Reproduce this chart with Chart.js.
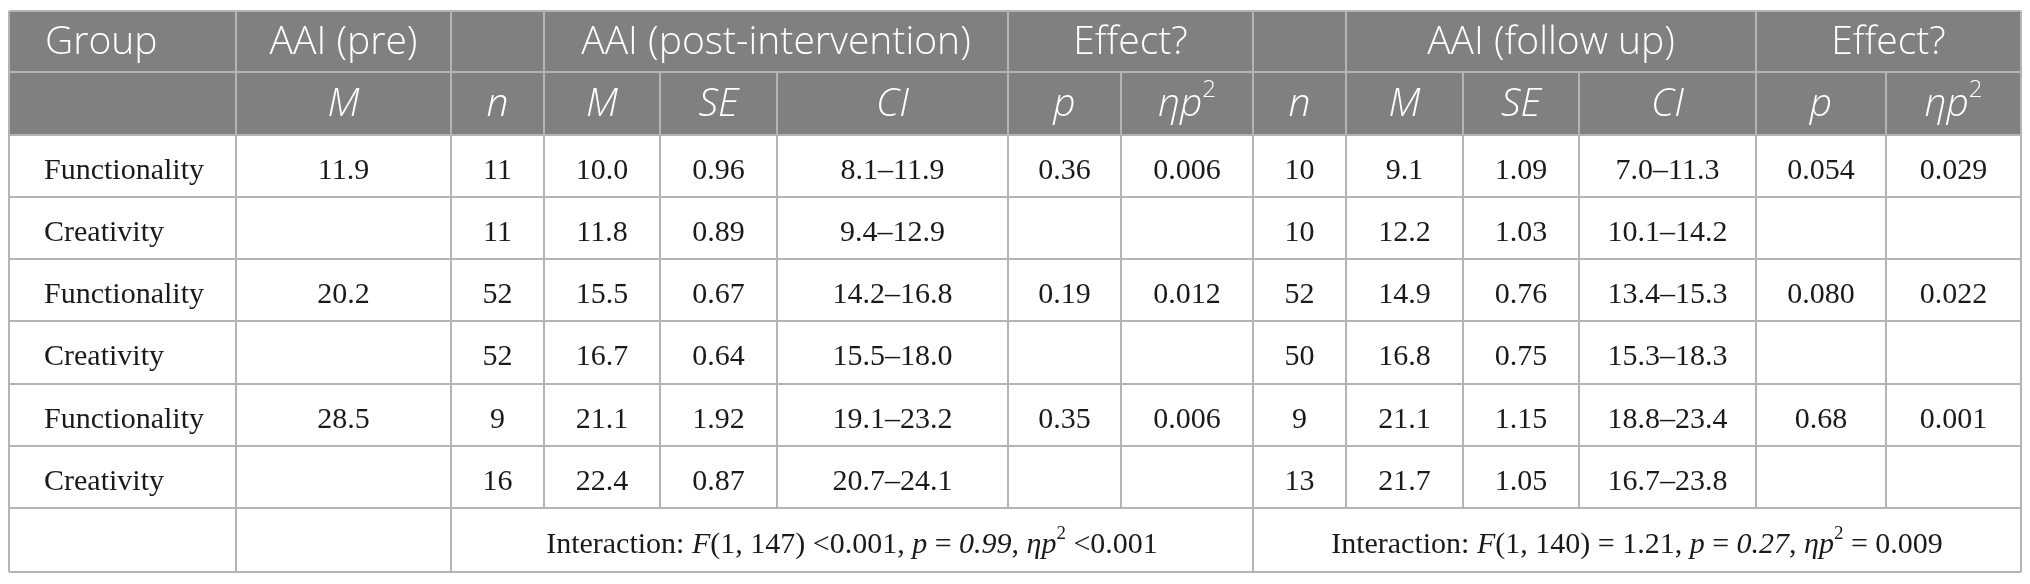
<!DOCTYPE html>
<html>
<head>
<meta charset="utf-8">
<script src="https://cdn.jsdelivr.net/npm/chart.js@4.4.1/dist/chart.umd.min.js"></script>
<style>
  html, body { margin: 0; padding: 0; background: #fff; }
  #wrap { width: 2030px; height: 584px; position: relative; }
</style>
</head>
<body>
<div id="wrap"><canvas id="tabla"></canvas></div>
<script>
// valors de la taula
const grups = ['Functionality', 'Creativity', 'Functionality', 'Creativity', 'Functionality', 'Creativity'];
const aaiPre = ['11.9', '', '20.2', '', '28.5', ''];
const postN = ['11', '11', '52', '52', '9', '16'];
const postM = ['10.0', '11.8', '15.5', '16.7', '21.1', '22.4'];
const postSE = ['0.96', '0.89', '0.67', '0.64', '1.92', '0.87'];
const postCI = ['8.1–11.9', '9.4–12.9', '14.2–16.8', '15.5–18.0', '19.1–23.2', '20.7–24.1'];
const postP = ['0.36', '', '0.19', '', '0.35', ''];
const postEta = ['0.006', '', '0.012', '', '0.006', ''];
const seguN = ['10', '10', '52', '50', '9', '13'];
const seguM = ['9.1', '12.2', '14.9', '16.8', '21.1', '21.7'];
const seguSE = ['1.09', '1.03', '0.76', '0.75', '1.15', '1.05'];
const seguCI = ['7.0–11.3', '10.1–14.2', '13.4–15.3', '15.3–18.3', '18.8–23.4', '16.7–23.8'];
const seguP = ['0.054', '', '0.080', '', '0.68', ''];
const seguEta = ['0.029', '', '0.022', '', '0.001', ''];

// capcaleres: [text, columna inicial, columna final]
const capcalera1 = [['Group', 0, 1], ['AAI (pre)', 1, 2], ['', 2, 3], ['AAI (post-intervention)', 3, 6],
  ['Effect?', 6, 8], ['', 8, 9], ['AAI (follow up)', 9, 12], ['Effect?', 12, 14]];
const capcalera2 = ['', 'M', 'n', 'M', 'SE', 'CI', 'p', 'ηp^2', 'n', 'M', 'SE', 'CI', 'p', 'ηp^2'];

// fila d'interaccio: trossos [text, estil] (0 normal, 1 cursiva, 2 superindex)
const interaccioPost = [['Interaction: ', 0], ['F', 1], ['(1, 147) <0.001, ', 0], ['p', 1], [' = ', 0],
  ['0.99', 1], [', ', 0], ['ηp', 1], ['2', 2], [' <0.001', 0]];
const interaccioSegu = [['Interaction: ', 0], ['F', 1], ['(1, 140) = 1.21, ', 0], ['p', 1], [' = ', 0],
  ['0.27', 1], [', ', 0], ['ηp', 1], ['2', 2], [' = 0.009', 0]];

// disposicio (unitats de les escales)
const VORES_COL = [9, 236, 451, 544, 660, 777, 1008, 1121, 1253, 1346, 1463, 1579, 1756, 1886, 2021];
const VORES_FILA = [11, 72, 135, 197, 259, 321, 384, 446, 508, 572];
const GRIS_CAP = '#808080';
const COLOR_LINIA = '#b4b4b4';
const COLOR_TEXT = '#1a1a1a';
const FONT_CAP = "'Open Sans', 'Noto Sans', sans-serif";
const FONT_COS = "'Liberation Serif', 'DejaVu Serif', serif";
const PES_CAP = 300;
const MIDA_CAP = 39;
const MIDA_COS = 30;

function dibuixaTrossos(ctx, trossos, cx, cy, mida, familia, color, pes = 400) {
  const fontDe = (estil) => {
    if (estil === 1) return `italic ${pes} ${mida}px ${familia}`;
    if (estil === 2) return `${pes} ${Math.round(mida * 0.62)}px ${familia}`;
    return `${pes} ${mida}px ${familia}`;
  };
  let total = 0;
  trossos.forEach(([t, e]) => { ctx.font = fontDe(e); total += ctx.measureText(t).width; });
  let x = cx - total / 2;
  ctx.fillStyle = color;
  ctx.textAlign = 'left';
  ctx.textBaseline = 'middle';
  trossos.forEach(([t, e]) => {
    ctx.font = fontDe(e);
    const dy = e === 2 ? -mida * 0.38 : 0;
    ctx.fillText(t, x, cy + dy);
    x += ctx.measureText(t).width;
  });
}

const pluginTaula = {
  id: 'taula',
  afterDraw(chart) {
    const ctx = chart.ctx;
    const xs = chart.scales.x;
    const ys = chart.scales.y;
    const px = (c) => xs.getPixelForValue(VORES_COL[c]);
    const py = (f) => ys.getPixelForValue(VORES_FILA[f]);
    const midY = (f) => (py(f) + py(f + 1)) / 2;
    ctx.save();

    // fons de capcalera
    ctx.fillStyle = GRIS_CAP;
    ctx.fillRect(px(0), py(0), px(14) - px(0), py(2) - py(0));

    // capcalera 1
    capcalera1.forEach(([t, c0, c1]) => {
      if (!t) return;
      ctx.font = `${PES_CAP} ${MIDA_CAP}px ${FONT_CAP}`;
      ctx.fillStyle = '#ffffff';
      ctx.textBaseline = 'middle';
      if (c0 === 0) {
        ctx.textAlign = 'left';
        ctx.fillText(t, px(0) + 36, midY(0) + 1);
      } else {
        ctx.textAlign = 'center';
        ctx.fillText(t, (px(c0) + px(c1)) / 2, midY(0) + 1);
      }
    });

    // capcalera 2 (cursiva)
    capcalera2.forEach((t, c) => {
      if (!t) return;
      const parts = t.split('^');
      const trossos = parts.length > 1 ? [[parts[0], 1], [parts[1], 2]] : [[t, 1]];
      dibuixaTrossos(ctx, trossos, (px(c) + px(c + 1)) / 2, midY(1) + 1, MIDA_CAP, FONT_CAP, '#ffffff', PES_CAP);
    });

    // cos de la taula
    const columnes = [grups, aaiPre, postN, postM, postSE, postCI, postP, postEta,
      seguN, seguM, seguSE, seguCI, seguP, seguEta];
    columnes.forEach((col, c) => {
      col.forEach((v, i) => {
        if (!v) return;
        const f = i + 2;
        ctx.font = `${MIDA_COS}px ${FONT_COS}`;
        ctx.fillStyle = COLOR_TEXT;
        ctx.textBaseline = 'middle';
        if (c === 0) {
          ctx.textAlign = 'left';
          ctx.fillText(v, px(0) + 35, midY(f) + 5);
        } else {
          ctx.textAlign = 'center';
          ctx.fillText(v, (px(c) + px(c + 1)) / 2, midY(f) + 5);
        }
      });
    });

    // fila d'interaccio
    dibuixaTrossos(ctx, interaccioPost, (px(2) + px(8)) / 2, midY(8) + 5, MIDA_COS, FONT_COS, COLOR_TEXT);
    dibuixaTrossos(ctx, interaccioSegu, (px(8) + px(14)) / 2, midY(8) + 5, MIDA_COS, FONT_COS, COLOR_TEXT);

    // linies
    ctx.strokeStyle = COLOR_LINIA;
    ctx.lineWidth = 2;
    const linia = (x0, y0, x1, y1) => {
      ctx.beginPath();
      ctx.moveTo(x0, y0);
      ctx.lineTo(x1, y1);
      ctx.stroke();
    };
    // horitzontals
    for (let f = 0; f < VORES_FILA.length; f++) {
      linia(px(0), py(f), px(14), py(f));
    }
    // verticals: capcalera 1
    const vores1 = new Set([0, 14]);
    capcalera1.forEach(([, c0, c1]) => { vores1.add(c0); vores1.add(c1); });
    vores1.forEach((c) => linia(px(c), py(0), px(c), py(1)));
    // verticals: files 1..7
    for (let c = 0; c <= 14; c++) linia(px(c), py(1), px(c), py(8));
    // verticals: fila final
    [0, 1, 2, 8, 14].forEach((c) => linia(px(c), py(8), px(c), py(9)));

    ctx.restore();
  }
};

function inicialitzaTaula() {
  const canvas = document.getElementById('tabla');
  if (typeof Chart === 'undefined' || !canvas) {
    console.warn('Chart.js no esta disponible');
    return;
  }
  new Chart(canvas.getContext('2d'), {
    type: 'scatter',
    data: { datasets: [] },
    options: {
      responsive: true,
      maintainAspectRatio: false,
      devicePixelRatio: 1,
      animation: false,
      layout: { padding: 0 },
      plugins: { legend: { display: false }, tooltip: { enabled: false } },
      scales: {
        x: { type: 'linear', min: 0, max: 2030, display: false },
        y: { type: 'linear', min: 0, max: 584, reverse: true, display: false }
      }
    },
    plugins: [pluginTaula]
  });
}

inicialitzaTaula();
</script>
</body>
</html>
